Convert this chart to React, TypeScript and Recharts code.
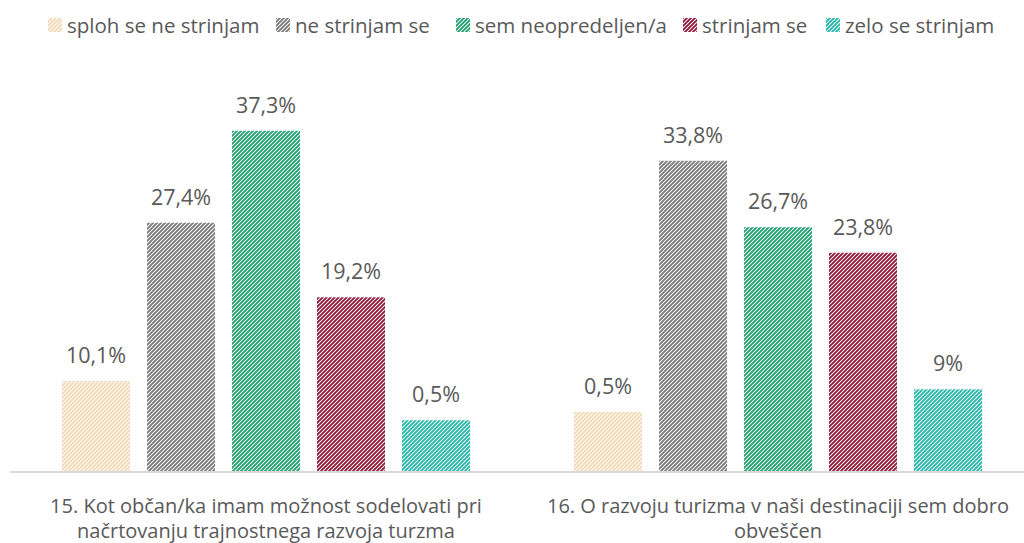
import React from "react";
import { BarChart, Bar, XAxis, YAxis, LabelList } from "recharts";

const categories = ["q15", "q16"];
const categoryLines = [
  ["15. Kot občan/ka imam možnost sodelovati pri", "načrtovanju trajnostnega razvoja turzma"],
  ["16. O razvoju turizma v naši destinaciji sem dobro", "obveščen"],
];
const seriesNames = [
  "sploh se ne strinjam",
  "ne strinjam se",
  "sem neopredeljen/a",
  "strinjam se",
  "zelo se strinjam",
];
const seriesColors = ["#F2D9B3", "#7A7A7A", "#1CA06E", "#921638", "#22B7AA"];
const s1Values = [10.0, 6.6];
const s2Values = [27.4, 34.2];
const s3Values = [37.5, 26.9];
const s4Values = [19.2, 24.1];
const s5Values = [5.7, 9.1];
const s1Labels = ["10,1%", "0,5%"];
const s2Labels = ["27,4%", "33,8%"];
const s3Labels = ["37,3%", "26,7%"];
const s4Labels = ["19,2%", "23,8%"];
const s5Labels = ["0,5%", "9%"];
const legendX = [48, 276, 456, 683, 826];

const allValues = [s1Values, s2Values, s3Values, s4Values, s5Values];
const allLabels = [s1Labels, s2Labels, s3Labels, s4Labels, s5Labels];

const data = categories.map((c, i) => {
  const row: any = { name: c, idx: i };
  allValues.forEach((vals, k) => {
    row["v" + k] = vals[i];
    row["l" + k] = allLabels[k][i];
  });
  return row;
});

const FONT = "'Open Sans', 'Noto Sans', sans-serif";
const TEXT = "#595959";

function Pattern({ id, color }: { id: string; color: string }) {
  return (
    <pattern id={id} patternUnits="userSpaceOnUse" width={4} height={4}>
      <rect x={0} y={0} width={4} height={4} fill="#fff" />
      <path
        d="M-1,1 L1,-1 M0,4 L4,0 M3,5 L5,3"
        stroke={color}
        strokeWidth={1.9}
      />
    </pattern>
  );
}

const Tick = (props: any) => {
  const { x, y, payload } = props;
  const lines = categoryLines[payload.index] || [];
  return (
    <g>
      {lines.map((ln, i) => (
        <text
          key={i}
          x={x}
          y={y + 33 + i * 25}
          textAnchor="middle"
          fill={TEXT}
          fontSize={20}
          fontFamily={FONT}
        >
          {ln}
        </text>
      ))}
    </g>
  );
};

const makeLabel = (k: number) => (props: any) => {
  const { x, y, width, index } = props;
  const txt = allLabels[k][index];
  return (
    <text
      x={x + width / 2}
      y={y - 18}
      textAnchor="middle"
      fill={TEXT}
      fontSize={21.5}
      fontFamily={FONT}
    >
      {txt}
    </text>
  );
};

const LegendBlock = () => (
  <div style={{ position: "absolute", left: 0, top: 0, width: 1024, height: 50 }}>
    {seriesNames.map((n, k) => (
      <div
        key={n}
        style={{
          position: "absolute",
          left: legendX[k],
          top: 12,
          display: "flex",
          alignItems: "center",
          height: 26,
          fontFamily: FONT,
          fontSize: 20.5,
          color: TEXT,
          whiteSpace: "nowrap",
        }}
      >
        <svg width={14} height={14} style={{ marginRight: 5 }}>
          <defs>
            <Pattern id={"lg" + k} color={seriesColors[k]} />
          </defs>
          <rect x={0} y={0} width={14} height={14} fill={"url(#lg" + k + ")"} />
        </svg>
        <span>{n}</span>
      </div>
    ))}
  </div>
);

export default function App() {
  return (
    <div
      style={{
        position: "absolute",
        left: 0,
        top: 0,
        width: 1024,
        height: 543,
        overflow: "hidden",
        background: "#fff",
      }}
    >
      <BarChart
        width={1034}
        height={543}
        data={data}
        margin={{ top: 108, right: 0, bottom: 0, left: 10 }}
        barSize={68}
        barGap={17}
      >
        <defs>
          {seriesColors.map((c, k) => (
            <Pattern key={k} id={"pat" + k} color={c} />
          ))}
        </defs>
        <XAxis
          dataKey="name"
          axisLine={{ stroke: "#D9D9D9", strokeWidth: 2 }}
          tickLine={false}
          height={71}
          interval={0}
          tick={<Tick />}
        />
        <YAxis hide domain={[0, 40]} width={0} />
        {seriesNames.map((n, k) => (
          <Bar
            key={n}
            dataKey={"v" + k}
            name={n}
            fill={"url(#pat" + k + ")"}
            isAnimationActive={false}
          >
            <LabelList dataKey={"l" + k} content={makeLabel(k)} />
          </Bar>
        ))}
      </BarChart>
      <LegendBlock />
    </div>
  );
}
